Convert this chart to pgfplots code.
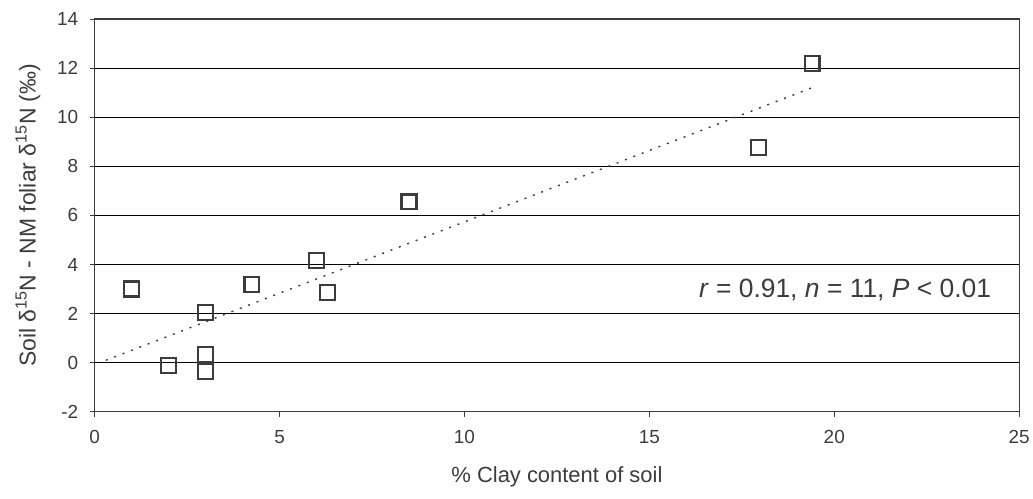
\documentclass[border=0pt]{standalone}
\usepackage{pgfplots}
\pgfplotsset{compat=1.18}
\usepackage{fontspec}
\setmainfont{Liberation Sans}
\definecolor{ink}{RGB}{60,60,60}
\begin{document}
\begin{tikzpicture}
\begin{axis}[
  name=ax,
  scale only axis,
  width=927pt, height=394pt,
  xmin=0, xmax=25, ymin=-2, ymax=14,
  xtick={0,5,...,25}, ytick={-2,0,...,14},
  xtick pos=left, ytick pos=left,
  ymajorgrids,
  grid style={black, line width=0.8pt},
  axis line style={ink, line width=1.2pt},
  tick style={ink, line width=0.8pt},
  tick align=outside,
  major tick length=5pt,
  /pgf/number format/assume math mode=true,
  ticklabel style={font=\fontsize{19}{22}\selectfont, text=ink},
  xticklabel style={yshift=-10pt},
  yticklabel style={xshift=-8pt},
  xlabel={\% Clay content of soil},
  ylabel={Soil δ\textsuperscript{15}N - NM foliar δ\textsuperscript{15}N (‰)},
  label style={text=ink},
  xlabel style={font=\fontsize{22}{26}\selectfont, yshift=-16pt},
  ylabel style={font=\fontsize{23}{27}\selectfont, yshift=10pt},
  clip=false,
]
% zero line
\addplot[black, line width=1.2pt, forget plot] coordinates {(0,0) (25,0)};
% linear fit
\addplot[ink, dash pattern=on 2pt off 7pt, line width=1.4pt] coordinates {(0.3,0.1) (19.4,11.2)};
% observations
\addplot[only marks, mark=square, mark size=7.5pt,
  mark options={ink, line width=2.2pt}] coordinates {
  (1.0,3.0) (2.0,-0.1) (3.0,2.05) (3.0,0.35) (3.0,-0.35)
  (4.25,3.2) (6.0,4.15) (6.3,2.85) (8.5,6.55) (17.95,8.75) (19.4,12.2)
};
\node[anchor=east, font=\fontsize{26.5}{31}\selectfont, text=ink, fill=white, inner sep=2pt]
  at (axis cs:24.3,2.95) {\textit{r} = 0.91, \textit{n} = 11, \textit{P} < 0.01};
\end{axis}
\path ([xshift=-95pt,yshift=-87pt]ax.south west) rectangle ([xshift=11pt,yshift=19pt]ax.north east);
\end{tikzpicture}
\end{document}
